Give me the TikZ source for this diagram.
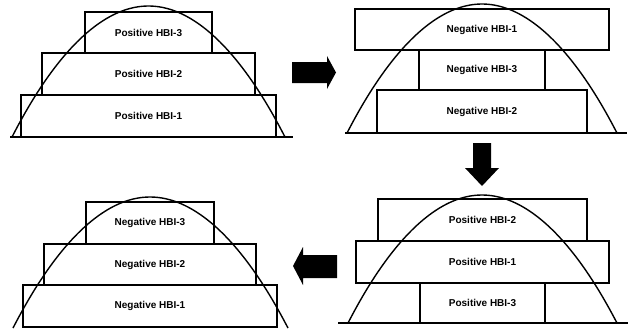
\documentclass[tikz,border=0pt]{standalone}
\usepackage{fontspec}
\setmainfont{Liberation Sans}
\usetikzlibrary{positioning}

\tikzset{
  hbi/.style={draw, line width=1.4pt, inner sep=0pt, outer sep=0pt,
    minimum height=42pt, font=\bfseries\fontsize{10}{12}\selectfont},
  hump/.style={line width=1.4pt},
  ground/.style={line width=1.2pt},
  bigarrow/.style={fill=black}
}

\begin{document}
\begin{tikzpicture}[x=1pt,y=-1pt]
  \useasboundingbox (0,0) rectangle (629,330);

  % top left
  \node[hbi, minimum width=255pt] (posA1) at (148.5,116) {Positive HBI-1};
  \node[hbi, minimum width=213pt, above=0pt of posA1] (posA2) {Positive HBI-2};
  \node[hbi, minimum width=127pt, minimum height=41pt, above=0pt of posA2] (posA3) {Positive HBI-3};
  \draw[ground] (10,137) -- (293,137);
  \draw[hump] (12,137) parabola bend (148.5,6) (285,137);

  % top right
  \node[hbi, minimum width=210pt, minimum height=43pt] (negA2) at (482,111.5) {Negative HBI-2};
  \node[hbi, minimum width=126pt, minimum height=40pt, above=0pt of negA2] (negA3) {Negative HBI-3};
  \node[hbi, minimum width=254pt, minimum height=41pt, above=0pt of negA3] (negA1) {Negative HBI-1};
  \draw[ground] (345,133) -- (627,133);
  \draw[hump] (347,133) parabola bend (482,4) (617,133);

  % bottom right
  \node[hbi, minimum width=125pt, minimum height=40pt] (posB3) at (482.5,303) {Positive HBI-3};
  \node[hbi, minimum width=253pt, above=0pt of posB3] (posB1) {Positive HBI-1};
  \node[hbi, minimum width=209pt, above=0pt of posB1] (posB2) {Positive HBI-2};
  \draw[ground] (338,323) -- (628,323);
  \draw[hump] (348,323) parabola bend (482,195) (617,323);

  % bottom left
  \node[hbi, minimum width=254pt] (negB1) at (150,306) {Negative HBI-1};
  \node[hbi, minimum width=212pt, minimum height=41pt, above=0pt of negB1] (negB2) {Negative HBI-2};
  \node[hbi, minimum width=128pt, above=0pt of negB2] (negB3) {Negative HBI-3};
  \draw[hump] (13,328) parabola bend (150,197) (288,328);

  % arrows between the panels
  \fill[bigarrow] (292,62) -- (327,62) -- (327,56) -- (336,72.5) -- (327,89)
    -- (327,83) -- (292,83) -- cycle;
  \fill[bigarrow] (473,143) -- (491,143) -- (491,168) -- (499,168) -- (482,186)
    -- (465,168) -- (473,168) -- cycle;
  \fill[bigarrow] (337,255) -- (303,255) -- (303,247) -- (293,266) -- (303,285)
    -- (303,278) -- (337,278) -- cycle;
\end{tikzpicture}
\end{document}
